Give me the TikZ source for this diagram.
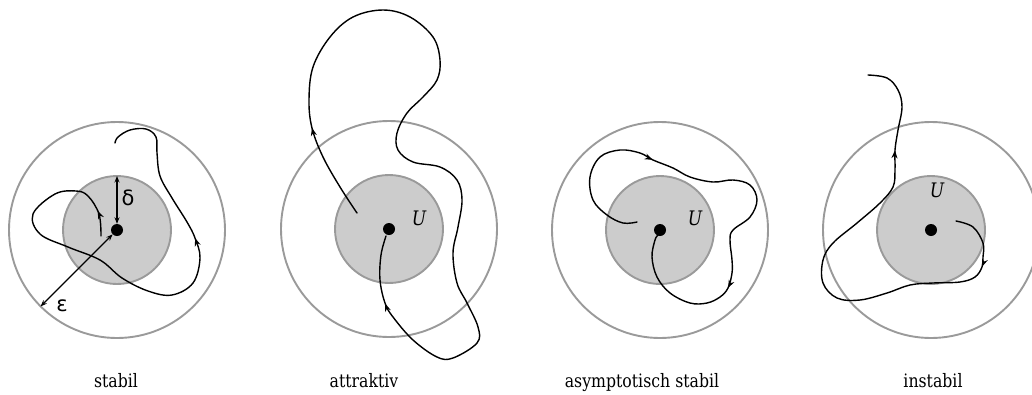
\documentclass[tikz,border=0pt]{standalone}
\usepackage{fontspec}
\setmainfont{DejaVu Serif}[FakeStretch=0.85]
\newfontfamily\greekfont{DejaVu Sans}
\usetikzlibrary{arrows.meta,decorations.markings}
\definecolor{ringgray}{HTML}{9A9A9A}
\definecolor{diskgray}{HTML}{CCCCCC}

\begin{document}
\begin{tikzpicture}[
    x=1pt, y=-1pt,
    outerring/.style={circle, draw=ringgray, line width=1.9pt, inner sep=0pt,
                      outer sep=0pt, minimum size=216pt},
    innerdisk/.style={outerring, fill=diskgray, minimum size=108pt},
    fixpt/.style={circle, fill=black, inner sep=0pt, minimum size=12pt},
    traj/.style={line width=1.4pt, line cap=round},
    tips/.style 2 args={postaction={decorate}, decoration={markings,
        mark=at position #1 with {\arrow{Stealth[length=8pt,width=6pt]}},
        mark=at position #2 with {\arrow{Stealth[length=8pt,width=6pt]}}}},
    dist/.style={{Stealth[length=6.5pt,width=5pt]}-{Stealth[length=6.5pt,width=5pt]},
                 line width=1.2pt},
    lbl/.style={anchor=base, font=\fontsize{18.5}{22}\selectfont},
    setname/.style={font=\fontsize{20}{24}\selectfont\itshape},
    greek/.style={font=\fontsize{21}{25}\selectfont\greekfont},
  ]
  \useasboundingbox (0,0) rectangle (1032,394);

  % Rings
  \node[outerring] (outer1) at (117,230) {};
  \node[innerdisk] (inner1) at (117,230) {};
  \node[outerring] (outer2) at (389,229) {};
  \node[innerdisk] (inner2) at (389,229) {};
  \node[outerring] (outer3) at (660,230) {};
  \node[innerdisk] (inner3) at (660,230) {};
  \node[outerring] (outer4) at (931,230) {};
  \node[innerdisk] (inner4) at (931,230) {};

  % Panel 1 -- stabil
  \draw[traj, tips={0.05}{0.685}] plot[smooth, tension=0.6] coordinates {
    (101,236) (99,214) (88,196) (76,191) (55,194) (33,214) (40,234) (68,247)
    (100,260) (122,278) (148,291) (172,295) (193,283) (200,258) (195,238)
    (187,222) (172,198) (160,176) (157,153) (156,137) (146,129) (130,130)
    (118,137) (115,143)};

  % Panel 2 -- attraktiv
  \draw[traj, tips={0.111}{0.921}] plot[smooth, tension=0.6] coordinates {
    (357,213) (340,187) (323,157) (312,128) (309,100) (313,67) (330,37)
    (353,17) (383,10) (410,17) (433,37) (440,60) (437,80) (423,97) (407,113)
    (397,133) (398,150) (413,162) (440,167) (457,180) (462,200) (458,227)
    (453,253) (457,283) (467,303) (478,327) (477,343) (453,358) (437,357)
    (413,340) (393,317) (385,303) (380,280) (381,255) (386,236)};

  % Panel 3 -- asymptotisch stabil
  \draw[traj, tips={0.307}{0.741}] plot[smooth, tension=0.6] coordinates {
    (637,222) (623,223) (607,215) (593,200) (590,177) (600,157) (620,150)
    (640,153) (653,160) (673,168) (690,177) (713,182) (733,180) (750,185)
    (757,200) (750,217) (733,230) (730,240) (732,260) (732,273) (728,288)
    (720,297) (707,303) (690,303) (670,293) (657,277) (652,257) (655,240)
    (658,235)};

  % Panel 4 -- instabil
  \draw[traj, tips={0.123}{0.804}] plot[smooth, tension=0.6] coordinates {
    (956,221) (973,227) (983,243) (983,257) (982,267) (975,277) (960,282)
    (933,283) (910,285) (887,293) (860,300) (837,298) (823,283) (823,260)
    (833,243) (857,223) (880,203) (893,187) (895,170) (895,150) (898,130)
    (902,107) (898,90) (887,78) (868,75)};

  % Fixed points
  \node[fixpt] (dot1) at (117,230) {};
  \node[fixpt] (dot2) at (389,229) {};
  \node[fixpt] (dot3) at (660,230) {};
  \node[fixpt] (dot4) at (931,230) {};

  % Radii
  \draw[dist] (dot1) -- (outer1.225);
  \draw[dist] (dot1) -- (inner1.north);
  \node[greek] (eps) at (62,306) {ε};
  \node[greek] (del) at (128,198) {δ};

  % Set names
  \node[setname] (u2) at (419,218) {U};
  \node[setname] (u3) at (695,218) {U};
  \node[setname] (u4) at (937,190) {U};

  % Captions
  \node[lbl] (cap1) at (116,387) {stabil};
  \node[lbl] (cap2) at (364,387) {attraktiv};
  \node[lbl] (cap3) at (642,387) {asymptotisch stabil};
  \node[lbl] (cap4) at (933,387) {instabil};
\end{tikzpicture}
\end{document}
